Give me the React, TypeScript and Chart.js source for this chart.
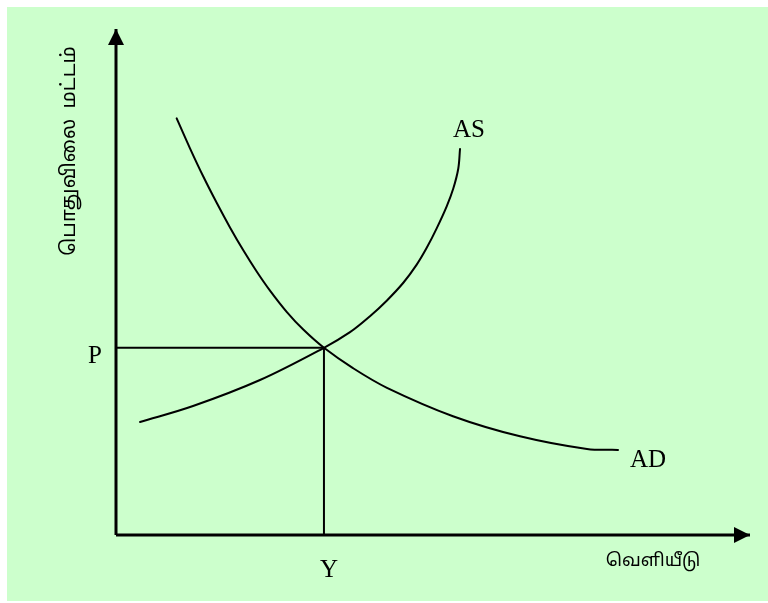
import React, { useEffect, useRef } from "react";
import { Chart, registerables } from "chart.js";

Chart.register(...registerables);

// Aggregate demand curve (x = output, y = price level), in axis units 0..100
const AD_X = [9.57, 11.67, 13.77, 15.88, 17.98, 20.08, 22.19, 24.29, 26.92, 29.54, 32.8, 37.38, 42.74, 53.15, 63.72, 74.29, 79.18];
const AD_Y = [82.33, 76.42, 70.84, 65.65, 60.79, 56.27, 52.08, 48.3, 44.11, 40.6, 37.0, 32.98, 29.09, 23.48, 19.51, 17.0, 16.82];
// Aggregate supply curve
const AS_X = [3.79, 12.15, 22.71, 32.8, 36.91, 40.06, 42.7, 45.32, 47.43, 49.01, 50.58, 52.16, 53.2, 53.99, 54.26];
const AS_Y = [22.33, 25.49, 30.63, 37.0, 40.08, 43.24, 46.31, 49.85, 53.43, 56.75, 60.6, 64.95, 68.47, 72.43, 76.29];
// Equilibrium
const EQ_Y_OUTPUT = 32.8;
const EQ_P_LEVEL = 37.0;
// Axis extent
const AXIS_MIN = 0;
const AXIS_MAX = 100;
// Text
const X_TITLE = "வெளியீடு";
const Y_TITLE = "பொதுவிலை  மட்டம்";
const P_LABEL = "P";
const Y_LABEL = "Y";
const AS_LABEL = "AS";
const AD_LABEL = "AD";

const BG = "#ccffcc";
const SERIF = "25px 'Liberation Serif', 'Times New Roman', serif";
const TAMIL_FAMILY = "'Noto Sans Tamil', 'Noto Serif Tamil', 'Latha', 'Lohit Tamil', sans-serif";

const toPts = (xs: number[], ys: number[]) => xs.map((x, i) => ({ x, y: ys[i] }));

const overlay = {
  id: "overlay",
  afterDatasetsDraw(chart: any) {
    const { ctx, scales } = chart;
    const xs = scales.x;
    const ys = scales.y;
    const x0 = xs.getPixelForValue(AXIS_MIN);
    const y0 = ys.getPixelForValue(AXIS_MIN);
    const xEnd = xs.getPixelForValue(AXIS_MAX);
    const yEnd = ys.getPixelForValue(AXIS_MAX);
    ctx.save();
    ctx.fillStyle = "#000";
    // arrowheads
    ctx.beginPath();
    ctx.moveTo(x0, yEnd);
    ctx.lineTo(x0 - 8, yEnd + 16);
    ctx.lineTo(x0 + 8, yEnd + 16);
    ctx.closePath();
    ctx.fill();
    ctx.beginPath();
    ctx.moveTo(xEnd, y0);
    ctx.lineTo(xEnd - 16, y0 - 8);
    ctx.lineTo(xEnd - 16, y0 + 8);
    ctx.closePath();
    ctx.fill();

    // Latin labels
    ctx.font = SERIF;
    ctx.textBaseline = "alphabetic";
    ctx.textAlign = "right";
    ctx.fillText(P_LABEL, x0 - 14, ys.getPixelForValue(EQ_P_LEVEL) + 15);
    ctx.textAlign = "center";
    ctx.fillText(Y_LABEL, xs.getPixelForValue(EQ_Y_OUTPUT) + 5, y0 + 42);
    const asEndX = xs.getPixelForValue(AS_X[AS_X.length - 1]);
    const asEndY = ys.getPixelForValue(AS_Y[AS_Y.length - 1]);
    ctx.fillText(AS_LABEL, asEndX + 9, asEndY - 12);
    const adEndX = xs.getPixelForValue(AD_X[AD_X.length - 1]);
    const adEndY = ys.getPixelForValue(AD_Y[AD_Y.length - 1]);
    ctx.fillText(AD_LABEL, adEndX + 30, adEndY + 17);

    // Tamil titles
    ctx.textBaseline = "middle";
    ctx.textAlign = "center";
    ctx.font = "18px " + TAMIL_FAMILY;
    ctx.fillText(X_TITLE, xEnd - 97, y0 + 27);
    ctx.save();
    ctx.translate(x0 - 45, yEnd + 122);
    ctx.rotate(-Math.PI / 2);
    ctx.font = "20px " + TAMIL_FAMILY;
    ctx.fillText(Y_TITLE, 0, 0);
    ctx.restore();
    ctx.restore();
  },
};

export default function App() {
  const ref = useRef<HTMLCanvasElement | null>(null);
  useEffect(() => {
    if (!ref.current) return;
    const line = (data: any[], width: number, extra: any = {}) => ({
      type: "line",
      data,
      borderColor: "#000",
      borderWidth: width,
      pointRadius: 0,
      fill: false,
      clip: false,
      ...extra,
    });
    const chart = new Chart(ref.current, {
      type: "scatter",
      data: {
        datasets: [
          line([{ x: AXIS_MIN, y: AXIS_MIN }, { x: AXIS_MAX, y: AXIS_MIN }], 3),
          line([{ x: AXIS_MIN, y: AXIS_MIN }, { x: AXIS_MIN, y: AXIS_MAX }], 3),
          line([{ x: AXIS_MIN, y: EQ_P_LEVEL }, { x: EQ_Y_OUTPUT, y: EQ_P_LEVEL }], 2),
          line([{ x: EQ_Y_OUTPUT, y: AXIS_MIN }, { x: EQ_Y_OUTPUT, y: EQ_P_LEVEL }], 2),
          line(toPts(AD_X, AD_Y), 2, { tension: 0.35, borderCapStyle: "round", borderJoinStyle: "round" }),
          line(toPts(AS_X, AS_Y), 2, { tension: 0.35, borderCapStyle: "round", borderJoinStyle: "round" }),
        ] as any,
      },
      options: {
        animation: false,
        responsive: true,
        maintainAspectRatio: false,
        layout: { padding: { left: 109, right: 18, top: 22, bottom: 66 } },
        scales: {
          x: { type: "linear", min: AXIS_MIN, max: AXIS_MAX, display: false },
          y: { type: "linear", min: AXIS_MIN, max: AXIS_MAX, display: false },
        },
        plugins: { legend: { display: false }, tooltip: { enabled: false } },
        events: [],
      },
      plugins: [overlay],
    });
    return () => chart.destroy();
  }, []);
  return (
    <div
      style={{
        position: "absolute",
        left: 7,
        top: 7,
        width: 761,
        height: 594,
        background: BG,
      }}
    >
      <canvas ref={ref} />
    </div>
  );
}
